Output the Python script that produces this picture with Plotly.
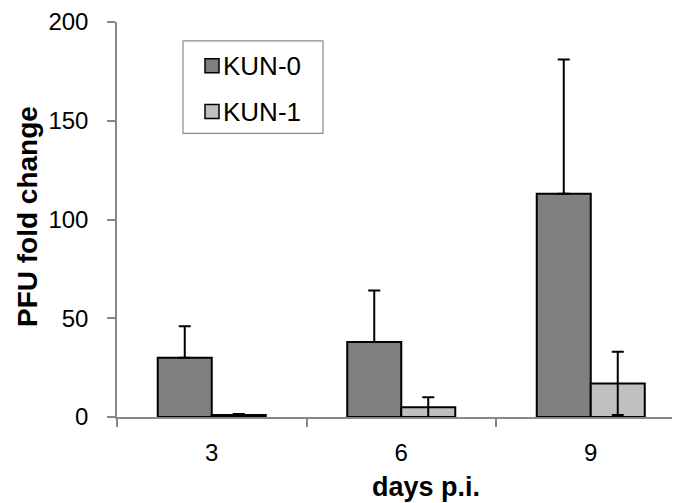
import plotly.graph_objects as go

# ---- data ----
categories = ["3", "6", "9"]
series_names = ["KUN-0", "KUN-1"]
kun0_values = [30, 38, 113]
kun0_err_plus = [16, 26, 68]
kun0_err_minus = [0, 0, 0]
kun1_values = [1, 5, 17]
kun1_err_plus = [0.5, 5, 16]
kun1_err_minus = [0.5, 5, 16]
y_ticks = [0, 50, 100, 150, 200]

# ---- layout geometry (pixels, in reference-page coordinates) ----
OFF = 8  # browser body margin offsets the figure by 8px
PAGE_W, PAGE_H = 680, 503
W, H = PAGE_W - OFF, PAGE_H - OFF
ML, MR, MT, MB = 117 - OFF, 0, 20 - OFF, 503 - 417
PW = W - ML - MR
PH = H - MT - MB

def px_x(px):
    return (px - OFF - ML) / PW

def px_y(py):
    return (H - MB - (py - OFF)) / PH

FONT = "Liberation Sans, Arial, sans-serif"
colors = ["#808080", "#c0c0c0"]

fig = go.Figure()
fig.add_trace(go.Bar(
    x=categories, y=kun0_values, name=series_names[0],
    marker=dict(color=colors[0], line=dict(color="black", width=2)),
    error_y=dict(type="data", symmetric=False, array=kun0_err_plus,
                 arrayminus=kun0_err_minus, color="black", thickness=2, width=6),
    showlegend=False,
))
fig.add_trace(go.Bar(
    x=categories, y=kun1_values, name=series_names[1],
    marker=dict(color=colors[1], line=dict(color="black", width=2)),
    error_y=dict(type="data", symmetric=False, array=kun1_err_plus,
                 arrayminus=kun1_err_minus, color="black", thickness=2, width=6),
    showlegend=False,
))

# manual legend
fig.add_shape(type="rect", xref="paper", yref="paper",
              x0=px_x(183), x1=px_x(323), y0=px_y(132), y1=px_y(39),
              line=dict(color="#8c8c8c", width=1.2), fillcolor="white", layer="above")
legend_rows_py = [64, 110]
for name, col, cy in zip(series_names, colors, legend_rows_py):
    fig.add_shape(type="rect", xref="paper", yref="paper",
                  x0=px_x(205), x1=px_x(219), y0=px_y(cy + 7), y1=px_y(cy - 7),
                  line=dict(color="black", width=1.5), fillcolor=col, layer="above")
    fig.add_annotation(text=name, xref="paper", yref="paper",
                       x=px_x(221), y=px_y(cy), xanchor="left", yanchor="middle",
                       showarrow=False, font=dict(family=FONT, size=26, color="black"))

# axis titles
fig.add_annotation(text="<b>PFU fold change</b>", xref="paper", yref="paper",
                   x=px_x(27), y=px_y(216), xanchor="center", yanchor="middle",
                   textangle=-90, showarrow=False,
                   font=dict(family=FONT, size=28, color="black"))
fig.add_annotation(text="<b>days p.i.</b>", xref="paper", yref="paper",
                   x=px_x(426), y=px_y(487), xanchor="center", yanchor="middle",
                   showarrow=False, font=dict(family=FONT, size=27, color="black"))

fig.update_layout(
    width=W, height=H,
    margin=dict(l=ML, r=MR, t=MT, b=MB, pad=0),
    paper_bgcolor="white", plot_bgcolor="white",
    barmode="group", bargap=0.43, bargroupgap=0,
    font=dict(family=FONT, size=24, color="black"),
    showlegend=False,
)
fig.update_xaxes(
    type="category", range=[-0.5, -0.5 + PW / 189.5],
    showline=True, linecolor="#888888", linewidth=1.5,
    ticks="outside", tickson="boundaries", ticklen=8, tickcolor="#888888", tickwidth=1.5,
    showgrid=False, zeroline=False, ticklabeloverflow="allow",
    tickfont=dict(family=FONT, size=24, color="black"), ticklabelstandoff=13,
)
fig.update_yaxes(
    range=[0, 200], tickvals=y_ticks,
    showline=True, linecolor="#888888", linewidth=1.5,
    ticks="outside", ticklen=8, tickcolor="#888888", tickwidth=1.5,
    showgrid=False, zeroline=False, ticklabeloverflow="allow",
    tickfont=dict(family=FONT, size=24, color="black"), ticklabelstandoff=14,
)

fig.write_html("out.html")
